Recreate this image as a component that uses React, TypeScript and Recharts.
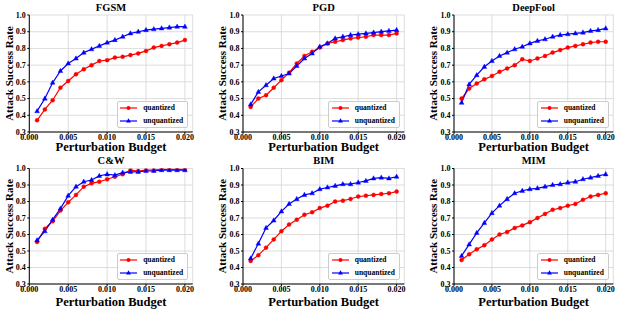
import React from 'react';
import { LineChart, Line, XAxis, YAxis, CartesianGrid, Legend } from 'recharts';

const budgets = [0.001, 0.002, 0.003, 0.004, 0.005, 0.006, 0.007, 0.008, 0.009, 0.010, 0.011, 0.012, 0.013, 0.014, 0.015, 0.016, 0.017, 0.018, 0.019, 0.020];
const xTicks = [0, 0.005, 0.01, 0.015, 0.02];
const yTicks = [0.3, 0.4, 0.5, 0.6, 0.7, 0.8, 0.9, 1.0];
const seriesNames = ['quantized', 'unquantized'];

const fgsmQuantized = [0.37, 0.435, 0.49, 0.565, 0.605, 0.645, 0.675, 0.70, 0.725, 0.73, 0.745, 0.75, 0.76, 0.77, 0.785, 0.805, 0.815, 0.825, 0.835, 0.85];
const fgsmUnquantized = [0.425, 0.50, 0.595, 0.665, 0.71, 0.74, 0.775, 0.795, 0.815, 0.835, 0.85, 0.87, 0.89, 0.90, 0.91, 0.915, 0.92, 0.925, 0.93, 0.93];

const pgdQuantized = [0.45, 0.50, 0.52, 0.565, 0.61, 0.655, 0.71, 0.755, 0.78, 0.805, 0.83, 0.84, 0.85, 0.86, 0.865, 0.87, 0.88, 0.88, 0.88, 0.89];
const pgdUnquantized = [0.465, 0.54, 0.58, 0.62, 0.635, 0.65, 0.695, 0.74, 0.77, 0.81, 0.83, 0.86, 0.87, 0.88, 0.885, 0.89, 0.895, 0.90, 0.905, 0.91];

const deepfoolQuantized = [0.50, 0.56, 0.59, 0.615, 0.635, 0.66, 0.68, 0.70, 0.735, 0.725, 0.74, 0.755, 0.775, 0.79, 0.805, 0.815, 0.825, 0.835, 0.84, 0.84];
const deepfoolUnquantized = [0.475, 0.585, 0.64, 0.69, 0.725, 0.755, 0.775, 0.795, 0.81, 0.83, 0.845, 0.855, 0.87, 0.88, 0.885, 0.89, 0.895, 0.905, 0.91, 0.92];

const cwQuantized = [0.555, 0.635, 0.68, 0.745, 0.795, 0.84, 0.89, 0.91, 0.92, 0.935, 0.95, 0.965, 0.99, 0.985, 0.99, 0.99, 0.995, 0.995, 0.995, 0.995];
const cwUnquantized = [0.565, 0.62, 0.69, 0.757, 0.835, 0.89, 0.92, 0.93, 0.955, 0.965, 0.96, 0.975, 0.98, 0.98, 0.985, 0.985, 0.99, 0.99, 0.99, 0.99];

const bimQuantized = [0.44, 0.475, 0.52, 0.57, 0.62, 0.66, 0.69, 0.72, 0.735, 0.76, 0.775, 0.80, 0.805, 0.815, 0.83, 0.835, 0.84, 0.845, 0.85, 0.86];
const bimUnquantized = [0.455, 0.545, 0.64, 0.685, 0.74, 0.785, 0.815, 0.84, 0.85, 0.875, 0.885, 0.895, 0.905, 0.905, 0.915, 0.925, 0.94, 0.945, 0.94, 0.95];

const mimQuantized = [0.445, 0.48, 0.51, 0.535, 0.57, 0.60, 0.615, 0.64, 0.655, 0.675, 0.70, 0.725, 0.75, 0.76, 0.775, 0.785, 0.81, 0.83, 0.84, 0.85];
const mimUnquantized = [0.47, 0.54, 0.61, 0.67, 0.73, 0.775, 0.815, 0.85, 0.865, 0.875, 0.88, 0.89, 0.90, 0.905, 0.915, 0.92, 0.935, 0.945, 0.955, 0.965];

const FONT = '"Liberation Serif", "Times New Roman", serif';
const RED = '#ff0000';
const BLUE = '#0000ff';

const cols = [
  { x0: 0, w: 207, yw: 29.3, right: 14.3, ylab: 9.3 },
  { x0: 207, w: 208, yw: 36, right: 10.7, ylab: 14.7 },
  { x0: 415, w: 208, yw: 39, right: 9.7, ylab: 18 },
];
const rows = [
  { y0: 0, top: 15, xh: 24, xlabOff: 4.8, titleTop: 2.2 },
  { y0: 156, top: 12.5, xh: 28, xlabOff: 5.8, titleTop: -1.1 },
];

const Triangle = (props: any) => {
  const { cx, cy, index } = props;
  if (cx == null || cy == null) return <g key={`e-${index}`} />;
  return (
    <path
      key={`t-${index}`}
      d={`M${cx},${cy - 2.7} L${cx + 2.4},${cy + 1.6} L${cx - 2.4},${cy + 1.6} Z`}
      fill={BLUE}
      stroke={BLUE}
      strokeWidth={0.4}
    />
  );
};

const XTick = (props: any) => {
  const { x, y, payload } = props;
  return (
    <text x={x} y={y} dy="0.71em" textAnchor="middle" fill="#000" stroke="none" fontSize={8} fontWeight="bold" fontFamily={FONT}>
      {Number(payload.value).toFixed(3)}
    </text>
  );
};

const YTick = (props: any) => {
  const { x, y, payload } = props;
  return (
    <text x={x} y={y} dy="0.34em" textAnchor="end" fill="#000" stroke="none" fontSize={8} fontWeight="bold" fontFamily={FONT}>
      {Number(payload.value).toFixed(1)}
    </text>
  );
};

const legendRow = { display: 'flex', alignItems: 'center', height: 10 } as const;

const LegendBox = () => (
  <div
    style={{
      background: 'rgba(255,255,255,0.85)',
      border: '1px solid #cccccc',
      borderRadius: 2,
      padding: '1px 4px 1px 2.5px',
      fontFamily: FONT,
      fontWeight: 'bold',
      fontSize: 7.5,
      lineHeight: '10px',
      color: '#000',
      whiteSpace: 'nowrap',
    }}
  >
    <div style={legendRow}>
      <svg width={17} height={8} style={{ display: 'block' }}>
        <line x1={0} y1={4} x2={17} y2={4} stroke={RED} strokeWidth={1.2} />
        <circle cx={8.5} cy={4} r={2} fill={RED} />
      </svg>
      <span style={{ marginLeft: 6 }}>{seriesNames[0]}</span>
    </div>
    <div style={{ ...legendRow, marginTop: 2.7 }}>
      <svg width={17} height={8} style={{ display: 'block' }}>
        <line x1={0} y1={4} x2={17} y2={4} stroke={BLUE} strokeWidth={1.2} />
        <path d="M8.5,1.3 L10.9,5.6 L6.1,5.6 Z" fill={BLUE} />
      </svg>
      <span style={{ marginLeft: 6 }}>{seriesNames[1]}</span>
    </div>
  </div>
);

function Panel({ title, q, u, col, row }: { title: string; q: number[]; u: number[]; col: number; row: number }) {
  const c = cols[col];
  const r = rows[row];
  const data = budgets.map((x, i) => ({ x, q: q[i], u: u[i] }));
  const plotLeft = c.yw;
  const plotRight = c.w - c.right;
  return (
    <div style={{ position: 'absolute', left: c.x0, top: r.y0, width: c.w, height: 156 }}>
      <div
        style={{
          position: 'absolute',
          left: plotLeft,
          width: plotRight - plotLeft,
          top: r.titleTop,
          textAlign: 'center',
          fontFamily: FONT,
          fontWeight: 'bold',
          fontSize: 10.5,
          lineHeight: '12px',
          color: '#000',
          whiteSpace: 'nowrap',
        }}
      >
        {title}
      </div>
      <LineChart width={c.w} height={156} data={data} margin={{ top: r.top, right: c.right, bottom: 0, left: 0 }}>
        <CartesianGrid stroke="#d4d4d4" strokeWidth={0.8} />
        <XAxis
          dataKey="x"
          type="number"
          domain={[0, 0.021]}
          ticks={xTicks}
          interval={0}
          allowDataOverflow
          height={r.xh}
          tickSize={2}
          tickMargin={0.5}
          axisLine={{ stroke: '#000' }}
          tickLine={{ stroke: '#000' }}
          tick={<XTick />}
          label={{
            value: 'Perturbation Budget',
            position: 'insideBottom',
            offset: r.xlabOff,
            fontSize: 12.5,
            fontWeight: 'bold',
            fill: '#000',
            fontFamily: FONT,
          }}
        />
        <XAxis
          xAxisId="top"
          orientation="top"
          type="number"
          domain={[0, 0.021]}
          height={0}
          tick={false}
          tickLine={false}
          axisLine={{ stroke: '#000' }}
        />
        <YAxis
          type="number"
          domain={[0.3, 1.0]}
          ticks={yTicks}
          interval={0}
          allowDataOverflow
          width={c.yw}
          tickSize={2}
          tickMargin={1.5}
          axisLine={{ stroke: '#000' }}
          tickLine={{ stroke: '#000' }}
          tick={<YTick />}
          label={{
            value: 'Attack Success Rate',
            angle: -90,
            position: 'insideLeft',
            offset: c.ylab,
            fontSize: 11,
            fontWeight: 'bold',
            fill: '#000',
            fontFamily: FONT,
            style: { textAnchor: 'middle' },
          }}
        />
        <YAxis
          yAxisId="right"
          orientation="right"
          type="number"
          domain={[0.3, 1.0]}
          width={0}
          tick={false}
          tickLine={false}
          axisLine={{ stroke: '#000' }}
        />
        <Line
          dataKey="q"
          name={seriesNames[0]}
          stroke={RED}
          strokeWidth={1.2}
          dot={{ r: 2, fill: RED, stroke: RED, strokeWidth: 0.4 }}
          activeDot={false}
          isAnimationActive={false}
        />
        <Line
          dataKey="u"
          name={seriesNames[1]}
          stroke={BLUE}
          strokeWidth={1.2}
          dot={Triangle}
          activeDot={false}
          isAnimationActive={false}
        />
        <Legend
          layout="vertical"
          align="center"
          verticalAlign="middle"
          content={<LegendBox />}
          wrapperStyle={{
            position: 'absolute',
            left: 'auto',
            top: 'auto',
            right: c.right + 4.5,
            bottom: r.xh + 4.3,
            width: 'auto',
            height: 'auto',
          }}
        />
      </LineChart>
    </div>
  );
}

export default function App() {
  return (
    <div style={{ position: 'fixed', left: 0, top: 0, width: 623, height: 312, background: '#fff', overflow: 'hidden' }}>
      <Panel title="FGSM" q={fgsmQuantized} u={fgsmUnquantized} col={0} row={0} />
      <Panel title="PGD" q={pgdQuantized} u={pgdUnquantized} col={1} row={0} />
      <Panel title="DeepFool" q={deepfoolQuantized} u={deepfoolUnquantized} col={2} row={0} />
      <Panel title="C&W" q={cwQuantized} u={cwUnquantized} col={0} row={1} />
      <Panel title="BIM" q={bimQuantized} u={bimUnquantized} col={1} row={1} />
      <Panel title="MIM" q={mimQuantized} u={mimUnquantized} col={2} row={1} />
    </div>
  );
}
